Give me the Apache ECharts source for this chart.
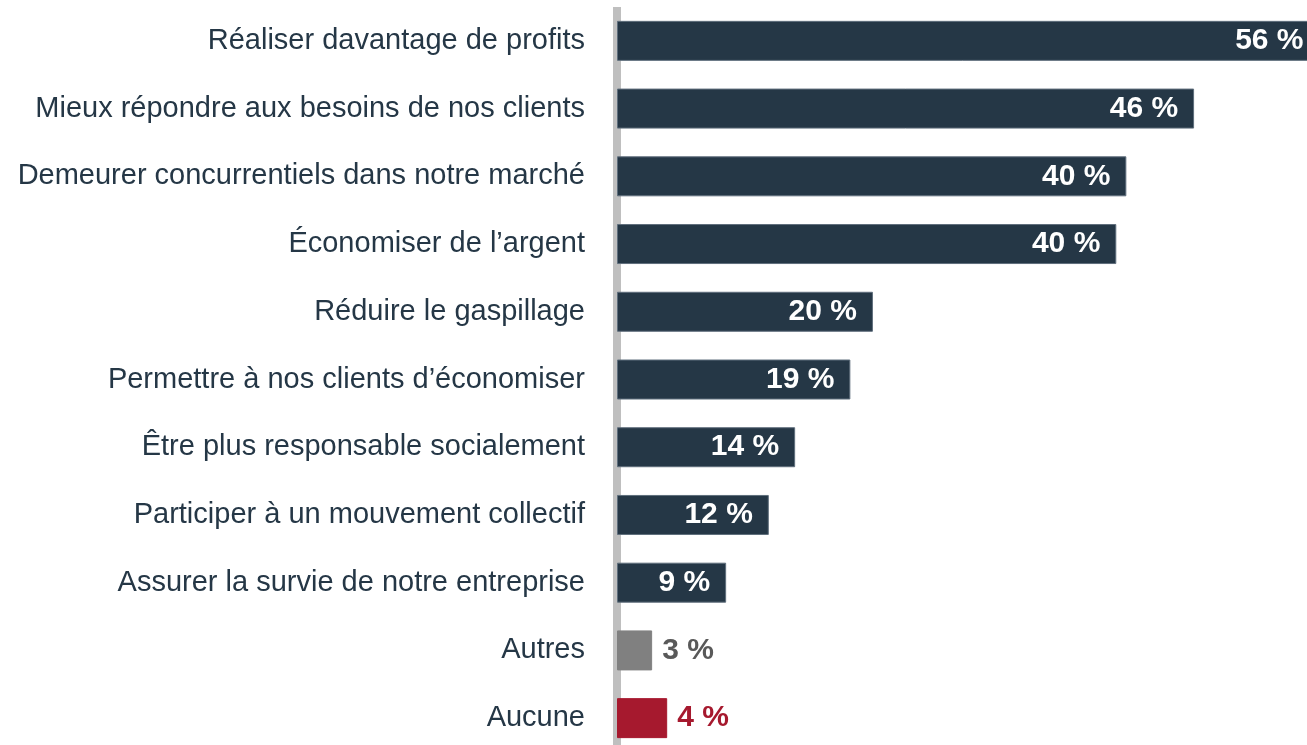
<!DOCTYPE html>
<html>
<head>
<meta charset="utf-8">
<script src="https://cdn.jsdelivr.net/npm/echarts@6/dist/echarts.min.js"></script>
<style>
html,body{margin:0;padding:0;background:#fff;}
#chart{width:1307px;height:745px;}
</style>
</head>
<body>
<div id="chart"></div>
<script>
var categories = [
  "Réaliser davantage de profits",
  "Mieux répondre aux besoins de nos clients",
  "Demeurer concurrentiels dans notre marché",
  "Économiser de l’argent",
  "Réduire le gaspillage",
  "Permettre à nos clients d’économiser",
  "Être plus responsable socialement",
  "Participer à un mouvement collectif",
  "Assurer la survie de notre entreprise",
  "Autres",
  "Aucune"
];
var values = [56, 46, 40.6, 39.8, 20.4, 18.6, 14.2, 12.1, 8.7, 2.8, 4.0];
var valueLabels = ["56 %", "46 %", "40 %", "40 %", "20 %", "19 %", "14 %", "12 %", "9 %", "3 %", "4 %"];

var navy = '#253746';
var font = '"Liberation Sans", Arial, sans-serif';

var data = values.map(function (v, i) {
  var item = { value: v };
  if (categories[i] === 'Autres') {
    item.itemStyle = { color: '#808080', borderColor: '#808080' };
    item.label = { position: 'right', distance: 10, color: '#595959' };
  } else if (categories[i] === 'Aucune') {
    item.itemStyle = { color: '#A6192E', borderColor: '#A6192E' };
    item.label = { position: 'right', distance: 10, color: '#A6192E' };
  }
  return item;
});

var chart = echarts.init(document.getElementById('chart'), null, { renderer: 'canvas' });
chart.setOption({
  animation: false,
  backgroundColor: '#ffffff',
  grid: { left: 617, right: 0, top: 7, bottom: -7, containLabel: false, outerBoundsMode: 'none' },
  xAxis: {
    type: 'value', min: 0, max: 55,
    show: false
  },
  yAxis: {
    type: 'category',
    data: categories,
    inverse: true,
    offset: 4,
    axisLine: { show: true, lineStyle: { color: '#BFBFBF', width: 8, cap: 'butt' } },
    axisTick: { show: false },
    axisLabel: {
      margin: 28,
      color: navy,
      fontFamily: font,
      fontSize: 29,
      padding: [9, 0, 0, 0]
    },
    splitLine: { show: false }
  },
  series: [{
    type: 'bar',
    data: data,
    barWidth: 40,
    clip: false,
    itemStyle: { color: navy, borderColor: '#5f6e7c', borderWidth: 1 },
    label: {
      show: true,
      position: 'insideRight',
      distance: 16,
      color: '#ffffff',
      fontFamily: font,
      fontWeight: 'bold',
      fontSize: 30,
      padding: [3, 0, 0, 0],
      formatter: function (p) { return valueLabels[p.dataIndex]; }
    }
  }]
});
</script>
</body>
</html>
